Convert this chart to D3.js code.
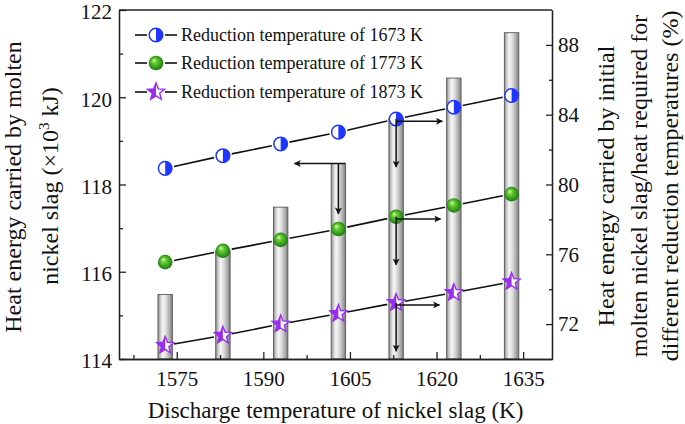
<!DOCTYPE html>
<html><head><meta charset="utf-8">
<script src="https://cdn.jsdelivr.net/npm/d3@7"></script>
<style>
html,body{margin:0;padding:0;background:#fff;}
svg{display:block;font-family:"Liberation Serif","Times New Roman",serif;}
</style></head>
<body><svg id="chart" width="685" height="424"></svg>
<script>
// ---------- data ----------
const dischargeT = [1573, 1583, 1593, 1603, 1613, 1623, 1633];
const heat1673 = [118.37, 118.66, 118.93, 119.20, 119.50, 119.77, 120.04];
const heat1773 = [116.22, 116.48, 116.73, 116.98, 117.26, 117.52, 117.78];
const heat1873 = [114.31, 114.54, 114.80, 115.04, 115.29, 115.52, 115.77];
const ratioPct = [73.7, 76.2, 78.7, 81.2, 83.8, 86.1, 88.7];
const seriesNames = ["Reduction temperature of 1673 K", "Reduction temperature of 1773 K", "Reduction temperature of 1873 K"];
const xTicks = [1575, 1590, 1605, 1620, 1635];
const xMinor = [1567.5, 1582.5, 1597.5, 1612.5, 1627.5];
const leftTicks = [114, 116, 118, 120, 122];
const leftMinor = [115, 117, 119, 121];
const rightTicks = [72, 76, 80, 84, 88];
const rightMinor = [74, 78, 82, 86];
// corner arrows: vertex (x, y on left axis), horizontal end x, vertical end y
const arrowCorners = [
  {x: 1603, y: 118.48, hx0: 1604.2, hx: 1595.4, vy: 117.33},
  {x: 1613, y: 119.50, hx0: 1613, hx: 1621.0, vy: 118.40, hOff: -0.05},
  {x: 1613, y: 117.26, hx0: 1613, hx: 1620.7, vy: 116.16, hOff: -0.05},
  {x: 1613, y: 115.29, hx0: 1613, hx: 1620.5, vy: 114.18, hOff: -0.05}
];

const svg = d3.select("#chart");
const L = 119, R = 552, T = 10, B = 359;
const x = d3.scaleLinear().domain([1565, 1640]).range([L, R]);
const yL = d3.scaleLinear().domain([114, 122]).range([B, T]);
const yR = d3.scaleLinear().domain([70, 90]).range([B, T]);
const FONT = '"Liberation Serif","Times New Roman",serif';

const defs = svg.append("defs");
const bg = defs.append("linearGradient").attr("id", "barGrad").attr("x1", 0).attr("x2", 1).attr("y1", 0).attr("y2", 0);
[[0, "#858585"], [0.14, "#c4c4c4"], [0.33, "#f6f6f6"], [0.55, "#dedede"], [0.82, "#a9a9a9"], [1, "#7c7c7c"]]
  .forEach(([o, c]) => bg.append("stop").attr("offset", o).attr("stop-color", c));
const gg = defs.append("radialGradient").attr("id", "sphere").attr("cx", "50%").attr("cy", "50%").attr("r", "55%").attr("fx", "35%").attr("fy", "30%");
[[0, "#d8ffb0"], [0.3, "#6ccc3a"], [0.75, "#2e9618"], [1, "#1d6a0c"]]
  .forEach(([o, c]) => gg.append("stop").attr("offset", o).attr("stop-color", c));
defs.append("clipPath").attr("id", "leftHalf").append("rect").attr("x", -20).attr("y", -20).attr("width", 20).attr("height", 40);
defs.append("clipPath").attr("id", "rightHalf").append("rect").attr("x", 0).attr("y", -20).attr("width", 20).attr("height", 40);
defs.append("marker").attr("id", "ah").attr("viewBox", "0 0 10 10").attr("refX", 9).attr("refY", 5)
  .attr("markerWidth", 10).attr("markerHeight", 7).attr("markerUnits", "userSpaceOnUse").attr("orient", "auto")
  .append("path").attr("d", "M0,0 L10,5 L0,10 L2.5,5 Z").attr("fill", "#111");

// ---------- bars (right axis) ----------
const bw = x(1565 + 2.5) - x(1565);
svg.append("g").selectAll("rect").data(dischargeT).join("rect")
  .attr("x", (d) => x(d) - bw / 2).attr("width", bw)
  .attr("y", (d, i) => yR(ratioPct[i])).attr("height", (d, i) => yR(70) - yR(ratioPct[i]))
  .attr("fill", "url(#barGrad)").attr("stroke", "#5a5a5a").attr("stroke-width", 0.9);

// ---------- axes ----------
function styleAxis(g) {
  g.selectAll("path,line").attr("stroke", "#222").attr("stroke-width", 1.3);
  g.selectAll("text").attr("font-family", FONT).attr("font-size", 21).attr("fill", "#111");
}
svg.append("g").attr("transform", `translate(${L},0)`).call(d3.axisLeft(yL).tickValues(leftTicks).tickSizeInner(-7).tickSizeOuter(0).tickPadding(7).tickFormat(d3.format("d"))).call(styleAxis)
  .selectAll("text").attr("dy", "0.42em");
svg.append("g").attr("transform", `translate(${L},0)`).call(d3.axisLeft(yL).tickValues(leftMinor).tickSizeInner(-4).tickSizeOuter(0).tickFormat("")).call(styleAxis);
svg.append("g").attr("transform", `translate(${R},0)`).call(d3.axisRight(yR).tickValues(rightTicks).tickSizeInner(-6).tickSizeOuter(0).tickPadding(6).tickFormat(d3.format("d"))).call(styleAxis);
svg.append("g").attr("transform", `translate(${R},0)`).call(d3.axisRight(yR).tickValues(rightMinor).tickSizeInner(-3).tickSizeOuter(0).tickFormat("")).call(styleAxis);
svg.append("g").attr("transform", `translate(0,${B})`).call(d3.axisBottom(x).tickValues(xTicks).tickSizeInner(-7).tickSizeOuter(0).tickPadding(12).tickFormat(d3.format("d"))).call(styleAxis);
svg.append("g").attr("transform", `translate(0,${B})`).call(d3.axisBottom(x).tickValues(xMinor).tickSizeInner(-4).tickSizeOuter(0).tickFormat("")).call(styleAxis);
svg.append("line").attr("x1", L).attr("x2", R).attr("y1", T).attr("y2", T).attr("stroke", "#222").attr("stroke-width", 1.3);

// ---------- lines ----------
const series = [heat1673, heat1773, heat1873];
const gap = 9;
const lineG = svg.append("g");
series.forEach((vals) => {
  for (let i = 0; i < vals.length - 1; i++) {
    const x1 = x(dischargeT[i]), y1 = yL(vals[i]), x2 = x(dischargeT[i + 1]), y2 = yL(vals[i + 1]);
    const len = Math.hypot(x2 - x1, y2 - y1), ux = (x2 - x1) / len, uy = (y2 - y1) / len;
    lineG.append("line").attr("x1", x1 + ux * gap).attr("y1", y1 + uy * gap)
      .attr("x2", x2 - ux * gap).attr("y2", y2 - uy * gap).attr("stroke", "#111").attr("stroke-width", 1.6);
  }
});

// ---------- markers ----------
const BLUE = "#1f36ff", PURPLE = "#9a2cf0";
function starPath(ro, ri) {
  const pts = [];
  for (let k = 0; k < 10; k++) {
    const r = k % 2 === 0 ? ro : ri, a = -Math.PI / 2 + k * Math.PI / 5;
    pts.push([r * Math.cos(a), r * Math.sin(a)]);
  }
  return "M" + pts.map((p) => p.join(",")).join("L") + "Z";
}
function drawMarker(g, type) {
  if (type === 0) {
    g.append("circle").attr("r", 6.8).attr("fill", "#fff");
    g.append("circle").attr("r", 6.8).attr("fill", BLUE).attr("clip-path", "url(#rightHalf)");
    g.append("circle").attr("r", 6.8).attr("fill", "none").attr("stroke", BLUE).attr("stroke-width", 1.5);
  } else if (type === 1) {
    g.append("circle").attr("r", 7.3).attr("fill", "url(#sphere)");
  } else {
    const sp = starPath(9, 3.9);
    g.append("path").attr("d", sp).attr("fill", "#fff");
    g.append("path").attr("d", sp).attr("fill", PURPLE).attr("clip-path", "url(#leftHalf)");
    g.append("path").attr("d", sp).attr("fill", "none").attr("stroke", PURPLE).attr("stroke-width", 1.4).attr("stroke-linejoin", "miter");
  }
}
series.forEach((vals, s) => {
  svg.append("g").selectAll("g").data(vals).join("g")
    .attr("transform", (d, i) => `translate(${x(dischargeT[i])},${yL(d)})`)
    .each(function () { drawMarker(d3.select(this), s); });
});

// ---------- arrows ----------
const arG = svg.append("g");
arrowCorners.forEach((a) => {
  const hy = yL(a.y + (a.hOff || 0));
  arG.append("line").attr("x1", x(a.hx0)).attr("y1", hy).attr("x2", x(a.hx)).attr("y2", hy)
    .attr("stroke", "#111").attr("stroke-width", 1.5).attr("marker-end", "url(#ah)");
  arG.append("line").attr("x1", x(a.x)).attr("y1", yL(a.y)).attr("x2", x(a.x)).attr("y2", yL(a.vy))
    .attr("stroke", "#111").attr("stroke-width", 1.5).attr("marker-end", "url(#ah)");
});

// ---------- legend ----------
const leg = svg.append("g");
const legY = [35, 63, 92];
seriesNames.forEach((name, s) => {
  const cy = legY[s];
  leg.append("line").attr("x1", 135).attr("x2", 147).attr("y1", cy).attr("y2", cy).attr("stroke", "#111").attr("stroke-width", 1.6);
  leg.append("line").attr("x1", 165).attr("x2", 177).attr("y1", cy).attr("y2", cy).attr("stroke", "#111").attr("stroke-width", 1.6);
  drawMarker(leg.append("g").attr("transform", `translate(156,${cy})`), s);
  leg.append("text").attr("x", 181).attr("y", cy).attr("dy", "0.35em").attr("font-size", 18).attr("font-family", FONT).attr("fill", "#111").text(name);
});

// ---------- titles ----------
svg.append("text").attr("x", x(1602.5)).attr("y", 418).attr("text-anchor", "middle").attr("font-size", 23).attr("font-family", FONT).attr("fill", "#111")
  .text("Discharge temperature of nickel slag (K)");
const lt = svg.append("g").attr("font-size", 24).attr("font-family", FONT).attr("fill", "#111").attr("text-anchor", "middle");
lt.append("text").attr("transform", "translate(21,187) rotate(-90)").text("Heat energy carried by molten");
const l2 = lt.append("text").attr("transform", "translate(58,186) rotate(-90)");
l2.append("tspan").text("nickel slag (\u00d710");
l2.append("tspan").attr("font-size", 15).attr("dy", -9).text("3");
l2.append("tspan").attr("dy", 9).text(" kJ)");
const rt = svg.append("g").attr("font-size", 24).attr("font-family", FONT).attr("fill", "#111").attr("text-anchor", "middle");
[["Heat energy carried by initial", 614], ["molten nickel slag/heat required for", 647], ["different reduction temperatures (%)", 678]]
  .forEach(([t, bx]) => rt.append("text").attr("transform", `translate(${bx},186) rotate(-90)`).text(t));
</script></body></html>
